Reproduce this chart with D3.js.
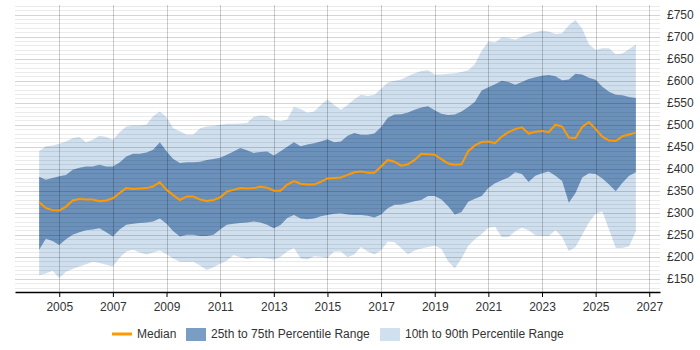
<!DOCTYPE html>
<html>
<head>
<meta charset="utf-8">
<script src="https://cdn.jsdelivr.net/npm/d3@7"></script>
<style>
  body { margin: 0; background: #fff; }
  svg { font-family: "Liberation Sans", Arial, sans-serif; }
  .axis text { fill: #333; font-size: 12px; }
</style>
</head>
<body>
<svg id="chart" width="700" height="350"></svg>
<script>
// quarterly samples, decimal years
const years = d3.range(90).map(i => 2004.25 + i * 0.25)

const p90 = [440, 451, 453, 457, 462, 470, 472, 460, 466, 475, 472, 466, 483, 496, 498, 498, 500, 519, 530, 517,
  492, 485, 477, 478, 492, 496, 497, 500, 502, 502, 503, 504, 518, 521, 520, 511, 508, 512, 540, 536,
  527, 530, 545, 558, 545, 534, 545, 558, 568, 565, 568, 582, 596, 600, 603, 610, 617, 622, 624, 614,
  614, 616, 617, 620, 624, 638, 668, 689, 687, 698, 697, 693, 700, 706, 710, 714, 712, 706, 708, 726,
  738, 718, 683, 670, 674, 674, 660, 662, 672, 682]

const p75 = [382, 375, 379, 383, 386, 398, 402, 405, 405, 409, 405, 405, 414, 428, 434, 434, 437, 443, 460, 440,
  422, 413, 415, 415, 416, 420, 422, 425, 432, 439, 447, 442, 436, 438, 439, 430, 440, 450, 460, 451,
  455, 458, 462, 467, 460, 462, 475, 481, 477, 477, 480, 495, 516, 523, 524, 528, 534, 539, 542, 533,
  525, 522, 523, 530, 540, 552, 578, 585, 592, 600, 597, 591, 597, 604, 608, 611, 613, 610, 601, 603,
  616, 614, 607, 602, 586, 575, 568, 567, 563, 561]

const median = [324, 311, 306, 305, 314, 328, 331, 330, 330, 326, 328, 333, 345, 356, 354, 355, 356, 360, 369, 352,
  340, 329, 337, 337, 330, 327, 329, 335, 348, 352, 356, 355, 356, 359, 357, 350, 350, 364, 372, 366,
  364, 364, 370, 378, 379, 380, 386, 392, 394, 391, 391, 405, 420, 416, 407, 410, 420, 434, 433, 432,
  422, 412, 409, 410, 440, 453, 461, 462, 458, 473, 483, 490, 494, 480, 484, 486, 483, 500, 496, 471,
  470, 495, 506, 490, 473, 464, 463, 474, 478, 482]

const p25 = [216, 241, 236, 227, 240, 250, 256, 260, 262, 265, 256, 246, 262, 273, 275, 277, 278, 280, 287, 275,
  258, 246, 250, 250, 247, 247, 250, 262, 273, 275, 277, 278, 280, 278, 273, 265, 272, 288, 295, 287,
  285, 287, 292, 295, 298, 299, 296, 295, 295, 293, 289, 296, 310, 318, 319, 322, 326, 329, 338, 338,
  330, 315, 296, 302, 325, 332, 338, 356, 367, 374, 380, 392, 388, 370, 384, 390, 394, 384, 372, 323,
  345, 380, 390, 388, 378, 364, 349, 368, 384, 392]

const p10 = [158, 162, 168, 152, 166, 172, 178, 183, 189, 186, 182, 178, 198, 212, 216, 210, 205, 210, 214, 206,
  196, 189, 188, 189, 180, 170, 176, 184, 191, 204, 199, 195, 197, 198, 196, 193, 200, 212, 220, 196,
  194, 201, 200, 197, 212, 212, 199, 205, 222, 212, 205, 215, 235, 233, 220, 206, 214, 219, 222, 225,
  218, 190, 174, 196, 225, 240, 252, 266, 268, 245, 245, 258, 266, 260, 249, 248, 247, 260, 245, 213,
  222, 250, 278, 298, 303, 262, 220, 220, 224, 258]

const xTicks = d3.range(2005, 2028, 2)
const yTicks = d3.range(150, 751, 50)
const legendLabels = ['Median', '25th to 75th Percentile Range', '10th to 90th Percentile Range']

const svg = d3.select('#chart')
const plotLeft = 15, plotRight = 660, plotTop = 5, plotBottom = 292

const x = d3.scaleLinear().domain([2003.35, 2027.4]).range([plotLeft, plotRight])
const y = d3.scaleLinear().domain([120, 772]).range([plotBottom, plotTop])

const rows = years.map((yr, i) => ({ yr, p10: p10[i], p25: p25[i], med: median[i], p75: p75[i], p90: p90[i] }))

// Bands
const outer = d3.area().x(d => x(d.yr)).y0(d => y(d.p10)).y1(d => y(d.p90))
const inner = d3.area().x(d => x(d.yr)).y0(d => y(d.p25)).y1(d => y(d.p75))

svg.append('path').datum(rows).attr('d', outer).attr('fill', '#cfdfee')
svg.append('path').datum(rows).attr('d', inner).attr('fill', '#6b91bb')

// Horizontal grid every £10, heavier at £50
const grid = svg.append('g')
grid.selectAll('line.h')
    .data(d3.range(130, 771, 10))
  .enter().append('line')
    .attr('x1', plotLeft).attr('x2', plotRight)
    .attr('y1', d => Math.round(y(d)) + 0.5).attr('y2', d => Math.round(y(d)) + 0.5)
    .attr('stroke', d => d % 50 === 0 ? 'rgba(0,0,0,0.17)' : 'rgba(0,0,0,0.08)')

grid.selectAll('line.v')
    .data(xTicks)
  .enter().append('line')
    .attr('x1', d => Math.round(x(d)) + 0.5).attr('x2', d => Math.round(x(d)) + 0.5)
    .attr('y1', plotTop).attr('y2', plotBottom)
    .attr('stroke', 'rgba(0,0,0,0.2)')

// Median line
const medLine = d3.line().x(d => x(d.yr)).y(d => y(d.med))
svg.append('path').datum(rows).attr('d', medLine)
    .attr('fill', 'none').attr('stroke', '#ff9900').attr('stroke-width', 2)

// X axis
const xAxis = d3.axisBottom(x).tickValues(xTicks).tickFormat(d3.format('d')).tickSize(5).tickSizeOuter(0)
const gx = svg.append('g').attr('class', 'axis').attr('transform', 'translate(0,' + plotBottom + ')').call(xAxis)
gx.select('.domain').attr('stroke', '#000').attr('stroke-width', 1.5)
gx.selectAll('.tick line').attr('stroke', '#000')
gx.selectAll('text').attr('dy', '0.9em')

// Y axis labels on the right
const yAxis = d3.axisRight(y).tickValues(yTicks).tickFormat(d => '£' + d).tickSize(0).tickPadding(7)
const gy = svg.append('g').attr('class', 'axis').attr('transform', 'translate(' + plotRight + ',0)').call(yAxis)
gy.select('.domain').remove()

// Legend
const lg = svg.append('g').attr('font-size', 12).attr('fill', '#333')
lg.append('line').attr('x1', 112).attr('x2', 132).attr('y1', 334).attr('y2', 334)
    .attr('stroke', '#ff9900').attr('stroke-width', 3)
lg.append('text').attr('x', 137).attr('y', 338).text(legendLabels[0])
lg.append('rect').attr('x', 186).attr('y', 328).attr('width', 20).attr('height', 13).attr('fill', '#7a9dc4')
lg.append('text').attr('x', 211).attr('y', 338).text(legendLabels[1])
lg.append('rect').attr('x', 380).attr('y', 328).attr('width', 20).attr('height', 13).attr('fill', '#d0e0ef')
lg.append('text').attr('x', 405).attr('y', 338).text(legendLabels[2])
</script>
</body>
</html>
